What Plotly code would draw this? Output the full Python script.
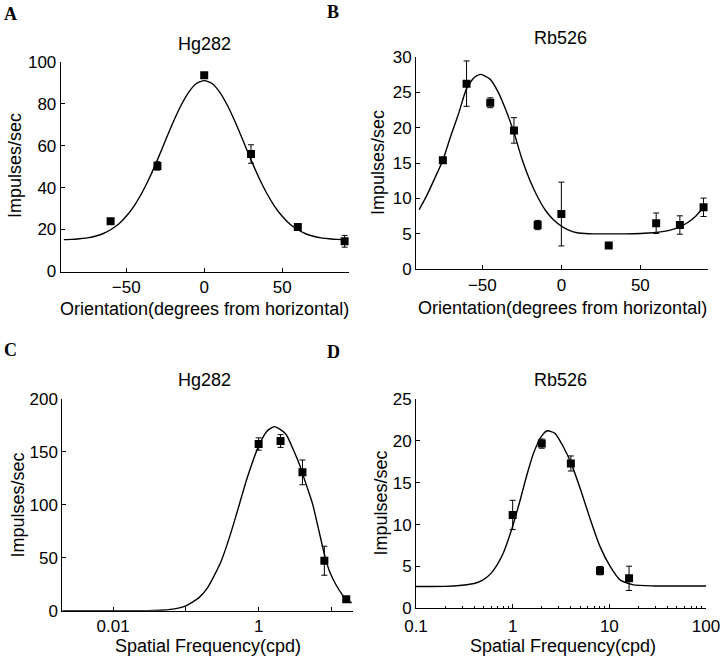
import plotly.graph_objects as go

W, H = 720, 658

# ---------------- Data ----------------
# Panel A: orientation tuning, Hg282
a_x = [-60, -30, 0, 30, 60, 90]
a_y = [23.9, 50.3, 93.6, 56.0, 21.2, 14.4]
a_err = [0.0, 2.0, 0.8, 4.4, 0.8, 2.8]
a_fit_x = [-90, -85, -80, -75, -70, -65, -60, -55, -50, -45, -40, -35, -30, -25, -20, -15, -10, -5,
           0, 5, 10, 15, 20, 25, 30, 35, 40, 45, 50, 55, 60, 65, 70, 75, 80, 85, 90]
a_fit_y = [15.2, 15.3, 15.6, 16.0, 16.8, 18.0, 19.9, 22.5, 26.3, 31.2, 37.4, 44.8, 53.2, 62.2, 71.0, 79.0, 85.4, 89.6,
           91.0, 89.6, 85.4, 79.0, 71.0, 62.2, 53.2, 44.8, 37.4, 31.2, 26.3, 22.5, 19.9, 18.0, 16.8, 16.0, 15.6, 15.3, 15.2]

# Panel B: orientation tuning, Rb526
b_x = [-75, -60, -45, -30, -15, 0, 30, 60, 75, 90]
b_y = [15.4, 26.2, 23.5, 19.6, 6.25, 7.8, 3.35, 6.5, 6.25, 8.75]
b_err = [0.0, 3.2, 0.7, 1.8, 0.65, 4.5, 0.0, 1.45, 1.3, 1.3]
b_fit_x = [-90, -85, -80, -75, -70, -65, -60, -55, -51, -45, -40, -35, -30, -25, -20, -15, -10, -5,
           0, 5, 10, 15, 20, 30, 40, 50, 60, 65, 70, 75, 80, 85, 90]
b_fit_y = [8.4, 10.5, 12.9, 15.4, 18.8, 22.0, 25.5, 27.1, 27.5, 26.8, 25.0, 22.4, 19.3, 15.6, 12.6, 10.2, 8.3, 7.0,
           6.1, 5.5, 5.15, 5.05, 5.0, 5.0, 5.0, 5.05, 5.2, 5.35, 5.6, 6.0, 6.6, 7.5, 8.75]

# Panel C: spatial frequency tuning, Hg282
c_x = [1, 2, 4, 8, 16]
c_y = [157.5, 160.3, 130.7, 47.2, 10.7]
c_err = [5.8, 6.0, 11.7, 13.7, 1.0]
c_fit_x = [0.002, 0.01, 0.03, 0.05, 0.07, 0.1, 0.15, 0.2, 0.3, 0.4, 0.5, 0.7, 1.0, 1.3, 1.64, 2.0, 2.41,
           3.0, 3.66, 4.0, 5.0, 5.57, 6.5, 7.0, 8.0, 9.5, 11.6, 14.0, 16.0, 19.0]
c_fit_y = [0.0, 0.0, 0.1, 0.6, 1.7, 4.5, 12.1, 22.1, 45.5, 70.0, 92.0, 126.0, 155.5, 169.5, 173.9, 171.0, 166.0,
           152.0, 137.6, 129.7, 110.0, 99.8, 80.0, 70.6, 53.5, 36.5, 24.3, 15.5, 10.0, 7.5]

# Panel D: spatial frequency tuning, Rb526
d_x = [1, 2, 4, 8, 16]
d_y = [11.15, 19.67, 17.3, 4.5, 3.58]
d_err = [1.75, 0.55, 0.9, 0.5, 1.45]
d_fit_x = [0.1, 0.2, 0.3, 0.4, 0.5, 0.6, 0.7, 0.8, 0.9, 1.0, 1.2, 1.4, 1.64, 2.0, 2.29, 2.74, 3.34, 4.0,
           5.0, 6.3, 8.0, 10.2, 12.9, 17.7, 28.5, 100]
d_fit_y = [2.6, 2.62, 2.76, 2.96, 3.43, 4.2, 5.3, 6.6, 8.2, 9.8, 13.0, 15.9, 18.5, 20.6, 21.2, 20.9, 19.3, 17.4,
           14.3, 10.75, 7.4, 5.0, 3.4, 2.8, 2.67, 2.67]

panel_titles = ["Hg282", "Rb526", "Hg282", "Rb526"]
panel_letters = ["A", "B", "C", "D"]
x_titles = ["Orientation(degrees from horizontal)", "Orientation(degrees from horizontal)",
            "Spatial Frequency(cpd)", "Spatial Frequency(cpd)"]
y_title = "Impulses/sec"

# ---------------- Figure ----------------
FONT = "Liberation Sans, Arial, Helvetica, sans-serif"
fig = go.Figure()

def add_panel(xs, ys, errs, fx, fy, k):
    xa = "x" if k == 1 else f"x{k}"
    ya = "y" if k == 1 else f"y{k}"
    fig.add_trace(go.Scatter(x=fx, y=fy, mode="lines",
                             line=dict(color="black", width=1.4, shape="spline", smoothing=0.6),
                             xaxis=xa, yaxis=ya, showlegend=False, hoverinfo="skip"))
    fig.add_trace(go.Scatter(x=xs, y=ys, mode="markers",
                             marker=dict(symbol="square", size=8, color="black"),
                             error_y=dict(type="data", array=errs, color="black", thickness=1, width=3),
                             xaxis=xa, yaxis=ya, showlegend=False))

add_panel(a_x, a_y, a_err, a_fit_x, a_fit_y, 1)
add_panel(b_x, b_y, b_err, b_fit_x, b_fit_y, 2)
add_panel(c_x, c_y, c_err, c_fit_x, c_fit_y, 3)
add_panel(d_x, d_y, d_err, d_fit_x, d_fit_y, 4)

def px_x(v):
    return v / W

def px_y(v):
    return 1 - v / H

base = dict(showline=True, linecolor="black", linewidth=1, ticks="inside", ticklen=4,
            tickcolor="black", tickwidth=1, showgrid=False, zeroline=False, mirror=False,
            ticklabeloverflow="allow",
            tickfont=dict(family=FONT, size=17, color="black"), automargin=False)

# plot-area boxes in pixels: (left, right, top, bottom)
boxA = (60.7, 349.3, 61.7, 271.5)
boxB = (416.0, 708.3, 56.7, 269.3)
boxC = (62.3, 353.3, 399.0, 610.7)
boxD = (416.0, 706.0, 399.0, 608.3)

def dom(box):
    l, r, t, b = box
    return [px_x(l), px_x(r)], [px_y(b), px_y(t)]

xa, ya = dom(boxA)
fig.update_layout(
    xaxis=dict(base, domain=xa, anchor="y", range=[-92, 93], tickvals=[-50, 0, 50]),
    yaxis=dict(base, domain=ya, anchor="x", range=[0, 100], tickvals=[0, 20, 40, 60, 80, 100]),
)
xb, yb = dom(boxB)
fig.update_layout(
    xaxis2=dict(base, domain=xb, anchor="y2", range=[-92, 93], tickvals=[-50, 0, 50]),
    yaxis2=dict(base, domain=yb, anchor="x2", range=[0, 30], tickvals=[0, 5, 10, 15, 20, 25, 30]),
)
xc, yc = dom(boxC)
fig.update_layout(
    xaxis3=dict(base, domain=xc, anchor="y3", type="log", range=[-2.699, 1.301],
                tickvals=[0.01, 0.1, 1, 10], ticktext=["0.01", "", "1", ""]),
    yaxis3=dict(base, domain=yc, anchor="x3", range=[0, 200], tickvals=[0, 50, 100, 150, 200]),
)
xd, yd = dom(boxD)
minor_d = [m * 10 ** e for e in (-1, 0, 1) for m in range(2, 10)]
fig.update_layout(
    xaxis4=dict(base, domain=xd, anchor="y4", type="log", range=[-1, 2],
                tickvals=[0.1, 1, 10, 100], ticktext=["0.1", "1", "10", "100"], ticklabelstandoff=2,
                minor=dict(ticks="inside", ticklen=2, tickcolor="black", tickvals=minor_d)),
    yaxis4=dict(base, domain=yd, anchor="x4", range=[0, 25], tickvals=[0, 5, 10, 15, 20, 25]),
)

ann = []
# panel letters
for txt, (x, y) in zip(panel_letters, [(10, 13.5), (332.5, 12), (10, 350), (333.5, 351.5)]):
    ann.append(dict(text=f"<b>{txt}</b>", x=px_x(x), y=px_y(y), xref="paper", yref="paper",
                    showarrow=False, xanchor="center", yanchor="middle",
                    font=dict(family="Liberation Serif, Times New Roman, serif", size=18, color="black")))
# panel titles
for txt, (x, y) in zip(panel_titles, [(204, 44.5), (560, 37.5), (204, 380), (560, 380)]):
    ann.append(dict(text=txt, x=px_x(x), y=px_y(y), xref="paper", yref="paper", showarrow=False,
                    xanchor="center", yanchor="middle", font=dict(family=FONT, size=18, color="black")))
# x-axis titles
for txt, (x, y) in zip(x_titles, [(204.5, 309), (562, 308), (208, 646), (562.5, 646)]):
    ann.append(dict(text=txt, x=px_x(x), y=px_y(y), xref="paper", yref="paper", showarrow=False,
                    xanchor="center", yanchor="middle", font=dict(family=FONT, size=18, color="black")))
# y-axis titles
for (x, y) in [(15, 166), (378, 163), (17.5, 505), (380, 503.5)]:
    ann.append(dict(text=y_title, x=px_x(x), y=px_y(y), xref="paper", yref="paper", showarrow=False,
                    textangle=-90, xanchor="center", yanchor="middle",
                    font=dict(family=FONT, size=18, color="black")))

fig.update_layout(
    width=W, height=H, margin=dict(l=0, r=0, t=0, b=0),
    paper_bgcolor="white", plot_bgcolor="white",
    font=dict(family=FONT, color="black"),
    annotations=ann,
)

fig.write_html("out.html", config={"displayModeBar": False},
               post_script="document.body.style.margin='0';document.body.style.padding='0';")
